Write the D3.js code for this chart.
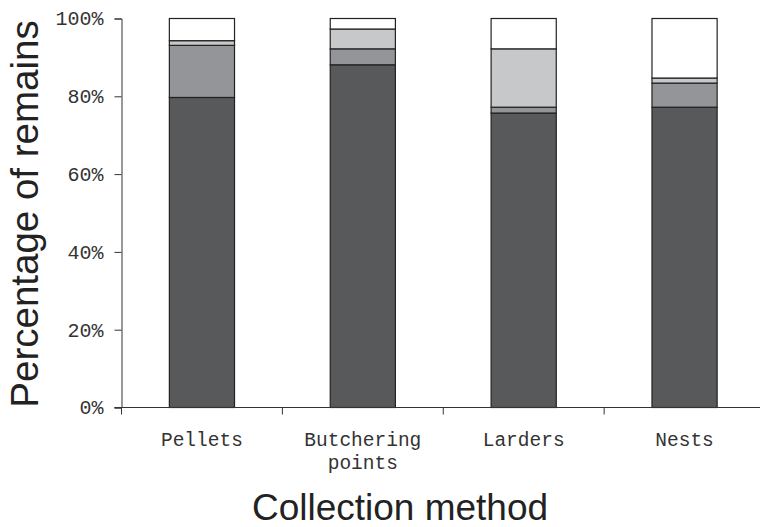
<!DOCTYPE html>
<html>
<head>
<meta charset="utf-8">
<script src="https://cdn.jsdelivr.net/npm/d3@7"></script>
<style>
  html, body { margin: 0; padding: 0; background: #fff; }
  svg { display: block; }
</style>
</head>
<body>
<svg id="chart" width="760" height="527"></svg>
<script>
// ---- data ----
const categories = ["Pellets", "Butchering points", "Larders", "Nests"];
const categoryLines = [["Pellets"], ["Butchering", "points"], ["Larders"], ["Nests"]];
const seriesNames = ["Group 1", "Group 2", "Group 3", "Group 4"];
const group1 = [79.7, 88.1, 75.7, 77.2];
const group2 = [13.4, 4.1, 1.5, 6.2];
const group3 = [1.2, 5.1, 15.0, 1.3];
const group4 = [5.7, 2.7, 7.8, 15.3];
const yTicks = [0, 20, 40, 60, 80, 100];
const yTickLabels = ["0%", "20%", "40%", "60%", "80%", "100%"];
const seriesColors = ["#58595b", "#939598", "#c7c8ca", "#ffffff"];

// ---- build table ----
const allSeries = [group1, group2, group3, group4];
const table = categories.map((c, i) => {
  const row = { category: c };
  seriesNames.forEach((s, j) => row[s] = allSeries[j][i]);
  return row;
});
const stacked = d3.stack().keys(seriesNames)(table);

const svg = d3.select("#chart");
const x0 = 121.5, x1 = 765, yTop = 18.5, yBot = 407.5;
const x = d3.scaleBand().domain(categories).range([x0, x1]).paddingInner(0).paddingOuter(0);
const y = d3.scaleLinear().domain([0, 100]).range([yBot, yTop]);
const barW = x.bandwidth() * 0.405;

const mono = "'Courier New', 'Liberation Mono', monospace";
const sans = "Arial, 'Liberation Sans', Helvetica, sans-serif";

// bars
const layers = svg.append("g").selectAll("g").data(stacked).join("g")
  .attr("fill", (d, i) => seriesColors[i]);
layers.selectAll("rect").data(d => d).join("rect")
  .attr("x", d => x(d.data.category) + (x.bandwidth() - barW) / 2)
  .attr("width", barW)
  .attr("y", d => y(d[1]))
  .attr("height", d => y(d[0]) - y(d[1]))
  .attr("stroke", "#222")
  .attr("stroke-width", 1.2);

// y axis
const yAxis = d3.axisLeft(y).tickValues(yTicks).tickSize(7).tickPadding(11)
  .tickFormat((d, i) => yTickLabels[i]);
const gy = svg.append("g").attr("transform", `translate(${x0},0)`).call(yAxis);
gy.select(".domain").attr("stroke", "#333");
gy.selectAll(".tick line").attr("stroke", "#333");
gy.selectAll(".tick text").attr("font-family", mono).attr("font-size", 20).attr("fill", "#333");

// x axis (ticks at band boundaries)
const gx = svg.append("g");
gx.append("line").attr("x1", x0 - 7).attr("x2", x1).attr("y1", yBot).attr("y2", yBot).attr("stroke", "#333");
gx.selectAll("line.tk").data(categories).join("line").attr("class", "tk")
  .attr("x1", d => x(d)).attr("x2", d => x(d))
  .attr("y1", yBot).attr("y2", yBot + 7).attr("stroke", "#333");
const labelItems = [];
categories.forEach((c, i) => categoryLines[i].forEach((t, k) => labelItems.push({ c, t, k })));
gx.selectAll("text").data(labelItems).join("text")
  .attr("x", d => x(d.c) + x.bandwidth() / 2)
  .attr("y", d => 446 + d.k * 22.5)
  .attr("text-anchor", "middle")
  .attr("font-family", mono).attr("font-size", 19.5).attr("fill", "#333")
  .text(d => d.t);

// titles
svg.append("text")
  .attr("transform", "translate(38,214) rotate(-90)")
  .attr("text-anchor", "middle")
  .attr("font-family", sans).attr("font-size", 38.5).attr("fill", "#222")
  .text("Percentage of remains");
svg.append("text")
  .attr("x", 400).attr("y", 520)
  .attr("text-anchor", "middle")
  .attr("font-family", sans).attr("font-size", 37).attr("fill", "#222")
  .text("Collection method");
</script>
</body>
</html>
